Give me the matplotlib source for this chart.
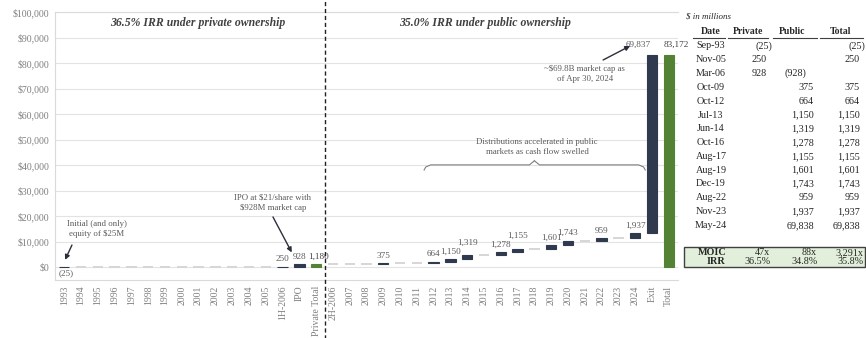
import matplotlib
matplotlib.use("Agg")
import matplotlib.pyplot as plt
from matplotlib.patches import Rectangle

plt.rcParams['font.family'] = ['Liberation Serif', 'DejaVu Serif']

# waterfall categories and cash flows ($M)
categories = [str(y) for y in range(1993, 2006)] + ['1H-2006', 'IPO', 'Private Total', '2H-2006'] + \
             [str(y) for y in range(2007, 2025)] + ['Exit', 'Total']
flows = [-25] + [0] * 12 + [250, 928, None, 0,
         0, 0, 375, 0, 0, 664, 1150, 1319, 0, 1278, 1155, 0, 1601, 1743, 0, 959, 0, 1937,
         69837, None]
totals = {'Private Total': 1180, 'Total': 83172}

# side table
table_dates = ['Sep-93', 'Nov-05', 'Mar-06', 'Oct-09', 'Oct-12', 'Jul-13', 'Jun-14', 'Oct-16',
               'Aug-17', 'Aug-19', 'Dec-19', 'Aug-22', 'Nov-23', 'May-24']
table_private = [-25, 250, 928, None, None, None, None, None, None, None, None, None, None, None]
table_public = [None, None, -928, 375, 664, 1150, 1319, 1278, 1155, 1601, 1743, 959, 1937, 69838]
table_total = [-25, 250, None, 375, 664, 1150, 1319, 1278, 1155, 1601, 1743, 959, 1937, 69838]
moic = ['47x', '88x', '3,291x']
irr = ['36.5%', '34.8%', '35.8%']

NAVY = '#2f3a4e'
GREEN = '#548235'
GREY = '#7f7f7f'
LBL = '#595959'

W, H = 866, 338
fig = plt.figure(figsize=(W / 100, H / 100), dpi=100)
ax = fig.add_axes([55 / W, 1 - 280 / H, (678 - 55) / W, 268 / H])

cum = 0
bw = 0.62
for i, (cat, v) in enumerate(zip(categories, flows)):
    if cat in totals:
        t = totals[cat]
        ax.bar(i, t, bw, color=GREEN, edgecolor=GREEN, linewidth=0.8, zorder=3)
        if cat == 'Total':
            ax.text(i - 0.3, t + 2600, f'{t:,}', ha='left', va='bottom', fontsize=6.6,
                    color='#404040')
        else:
            ax.text(i + 0.15, t + 1300, f'{t:,}', ha='center', va='bottom', fontsize=6.6,
                    color='#404040')
        continue
    if v == 0:
        ax.hlines(cum, i - bw / 2, i + bw / 2, color='#d6d6d6', lw=1.4, zorder=2)
        continue
    ax.bar(i, v, bw, bottom=cum, color=NAVY, edgecolor=NAVY, linewidth=0.8, zorder=3)
    top = cum + max(v, 0)
    if v < 0:
        ax.text(i + 0.1, -2300, f'({-v:,})', ha='center', va='center', fontsize=6.6, color=LBL)
    elif cat == 'Exit':
        ax.text(i - 0.05, top + 2600, f'{v:,}', ha='right', va='bottom', fontsize=6.6, color=LBL)
    else:
        lift = 3500 if cat in ('2014', '2017') else 1300
        ax.text(i, top + lift, f'{v:,}', ha='center', va='bottom', fontsize=6.6, color=LBL)
    cum += v

ax.set_xlim(-0.55, len(categories) - 0.45)
ax.set_ylim(-5000, 100000)
ax.set_yticks(range(0, 100001, 10000))
ax.set_yticklabels([f'${t:,}' for t in range(0, 100001, 10000)], fontsize=7, color=GREY)
ax.set_xticks(range(len(categories)))
ax.set_xticklabels(categories, rotation=90, fontsize=7, color=GREY)
ax.tick_params(length=0, pad=4)
ax.grid(axis='y', color='#e3e3e3', lw=0.8, zorder=0)
for s in ['left', 'bottom', 'top']:
    ax.spines[s].set_color('#dadada')
ax.spines['right'].set_visible(False)

# split between private and public periods
ax.axvline(15.5, ymin=-0.22, ymax=1.05, color='#202020', lw=1, ls=(0, (3, 2)),
           clip_on=False, zorder=4)

ax.text(7.97, 95700, '36.5% IRR under private ownership', ha='center', va='center',
        fontsize=8.5, style='italic', weight='bold', color='#404040')
ax.text(25.06, 95700, '35.0% IRR under public ownership', ha='center', va='center',
        fontsize=8.5, style='italic', weight='bold', color='#404040')

arrow = dict(arrowstyle='-|>', color='#2a2f3a', lw=1, mutation_scale=7, shrinkA=0, shrinkB=0)
ax.text(1.95, 15000, 'Initial (and only)\nequity of $25M', ha='center', va='center',
        fontsize=6.3, color=LBL, linespacing=1.4)
ax.annotate('', xy=(0.05, 2900), xytext=(0.46, 8700), arrowprops=arrow)
ax.text(12.43, 25400, 'IPO at $21/share with\n$928M market cap', ha='center', va='center',
        fontsize=6.3, color=LBL, linespacing=1.4)
ax.annotate('', xy=(13.55, 5800), xytext=(12.43, 19700), arrowprops=arrow)
ax.text(31.0, 75700, '~$69.8B market cap as\nof Apr 30, 2024', ha='center', va='center',
        fontsize=6.3, color=LBL, linespacing=1.4)
ax.annotate('', xy=(33.7, 86700), xytext=(32.09, 81200), arrowprops=arrow)
ax.text(28.15, 47100, 'Distributions accelerated in public\nmarkets as cash flow swelled',
        ha='center', va='center', fontsize=6.3, color=LBL, linespacing=1.4)

# brace over the public distributions
bl, bc, br = 21.43, 28.0, 34.6
ylo, ymid, ypk = 38100, 40100, 41700
ax.plot([bl, bl + 0.1, bl + 0.4, bc - 0.3, bc], [ylo, ymid - 800, ymid, ymid, ypk],
        color=GREY, lw=0.8)
ax.plot([br, br - 0.1, br - 0.4, bc + 0.3, bc], [ylo, ymid - 800, ymid, ymid, ypk],
        color=GREY, lw=0.8)


def fmt(v):
    if v is None:
        return ''
    return f'({-v:,})' if v < 0 else f'{v:,}'


def ftext(x, y, s, **kw):
    fig.text(x / W, 1 - y / H, s, **kw)


TXT = '#262626'
ftext(686, 16, '$ in millions', fontsize=6.5, style='italic', color=TXT, va='center')
heads = [('Date', 711, 693, 725), ('Private', 748, 728, 768), ('Public', 792, 773, 817),
         ('Total', 841, 820, 863)]
for name, cx, x0, x1 in heads:
    ftext(cx, 31, name, fontsize=7, weight='bold', color=TXT, ha='center', va='center')
    fig.add_artist(plt.Line2D([x0 / W, x1 / W], [1 - 37.5 / H] * 2, color='#404040', lw=0.8))

row_h = 13.8
for r, d in enumerate(table_dates):
    y = 46 + r * row_h
    ftext(711, y, d, fontsize=7.3, color=TXT, ha='center', va='center')
    for vals, xr in [(table_private, 767), (table_public, 814), (table_total, 860)]:
        v = vals[r]
        if v is None:
            continue
        off = 5 if v < 0 else 0
        if vals is table_public and v < 0:
            off = -8
        ftext(xr + off, y, fmt(v), fontsize=7.3, color=TXT, ha='right', va='center')

fig.add_artist(Rectangle((684 / W, 1 - 267 / H), (865 - 684) / W, 20 / H,
                         transform=fig.transFigure, facecolor='#e2efda',
                         edgecolor='#404040', lw=1))
ftext(712, 252.5, 'MOIC', fontsize=7.3, weight='bold', color=TXT, ha='center', va='center')
ftext(725, 262, 'IRR', fontsize=7.3, weight='bold', color=TXT, ha='right', va='center')
for (m, ir), xr in zip(zip(moic, irr), [770, 817, 863]):
    ftext(xr, 252.5, m, fontsize=7.3, color=TXT, ha='right', va='center')
    ftext(xr + 1, 262, ir, fontsize=7.3, color=TXT, ha='right', va='center')

fig.savefig('out.png', dpi=100)
